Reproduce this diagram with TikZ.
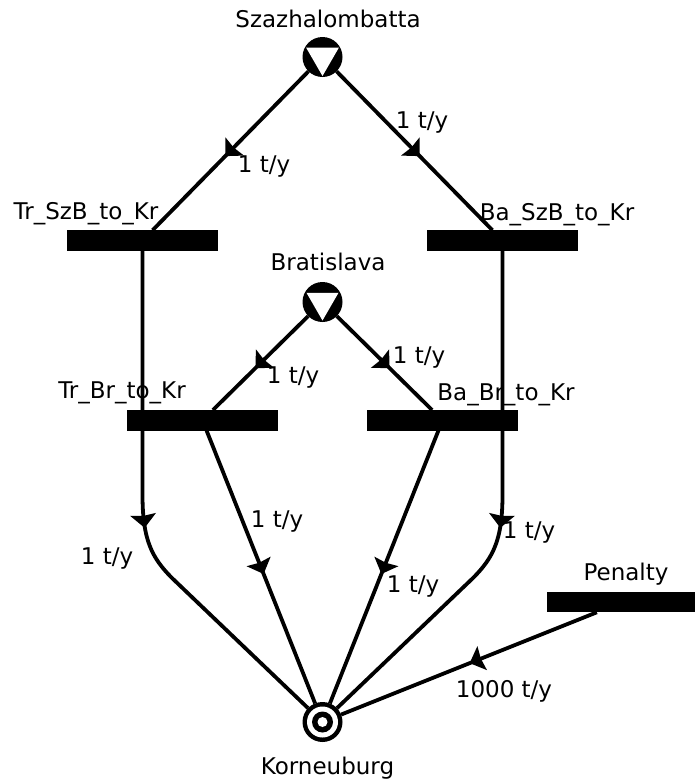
\documentclass[tikz,border=0pt]{standalone}
\usepackage{fontspec}
\setmainfont{DejaVu Sans}
\usetikzlibrary{decorations.markings,calc}
\begin{document}
\begin{tikzpicture}[x=1pt,y=-1pt,
  midarrow/.style={postaction={decorate},
    decoration={markings, mark=at position #1 with {\fill (7.5pt,0pt) -- (-6pt,13pt) -- (-4.5pt,0pt) -- (-6pt,-13pt) -- cycle;}}},
  midarrow/.default=0.5,
  conn/.style={line width=3.8pt, midarrow=#1},
  conn/.default=0.5,
  trans/.style={rectangle, fill=black, minimum width=151pt, minimum height=20.5pt, inner sep=0pt, outer sep=0pt},
  place/.style={circle, fill=black, minimum size=40pt, inner sep=0pt, outer sep=0pt},
  lbl/.style={anchor=base, inner sep=0pt, font=\fontsize{23}{28}\selectfont},
]
\useasboundingbox (0,0) rectangle (695,782);

% transitions
\node[trans] (tsb) at (142.5,240.5) {};
\node[trans] (bsb) at (502.5,240.5) {};
\node[trans] (tbr) at (202.5,420.3) {};
\node[trans] (bbr) at (442.5,420.3) {};
\node[trans] (pen) at (622.5,602) {};

% places
\node[place] (szb) at (322.5,57) {};
\node[place] (br) at (322.5,302) {};
\node[place] (kor) at (322.5,722) {};

% edges
\draw[conn] (szb) -- (tsb);
\draw[conn] (szb) -- (bsb);
\draw[conn] (br) -- (tbr);
\draw[conn] (br) -- (bbr);
\draw[conn] (tbr) -- (kor);
\draw[conn] (bbr) -- (kor);
\draw[conn=0.47] (pen) -- (kor);
\draw[conn=0.515] (tsb.south) -- (142.5,495) .. controls (142.5,540) and (152,558) .. (172,578) -- (kor);
\draw[conn=0.515] (bsb.south) -- (502.5,495) .. controls (502.5,540) and (493,558) .. (473,578) -- (kor);

% source triangles
\fill[white] ($(szb)+(150:19pt)$) -- ($(szb)+(30:19pt)$) -- ($(szb)+(270:19pt)$) -- cycle;
\fill[white] ($(br)+(150:18.5pt)$) -- ($(br)+(30:18.5pt)$) -- ($(br)+(270:18.5pt)$) -- cycle;

% sink rings
\fill[white] (kor) circle[radius=15.5pt];
\fill[black] (kor) circle[radius=10.5pt];
\fill[white] (kor) circle[radius=5pt];

% place labels
\node[lbl] (nszb) at (328,27) {Szazhalombatta};
\node[lbl] (nbr) at (328,270) {Bratislava};
\node[lbl] (nkor) at (327.5,774) {Korneuburg};

% transition labels
\node[lbl] (ntsb) at (86,219) {Tr\_SzB\_to\_Kr};
\node[lbl] (nbsb) at (557,220) {Ba\_SzB\_to\_Kr};
\node[lbl] (ntbr) at (122,398) {Tr\_Br\_to\_Kr};
\node[lbl] (nbbr) at (506,400) {Ba\_Br\_to\_Kr};
\node[lbl] (npen) at (626,580) {Penalty};

% edge labels
\node[lbl] (e1) at (264,172) {1 t/y};
\node[lbl] (e2) at (422,128) {1 t/y};
\node[lbl] (e3) at (293,383) {1 t/y};
\node[lbl] (e4) at (419,363) {1 t/y};
\node[lbl] (e5) at (107,564) {1 t/y};
\node[lbl] (e6) at (277,527) {1 t/y};
\node[lbl] (e7) at (413,592) {1 t/y};
\node[lbl] (e8) at (529,538) {1 t/y};
\node[lbl] (e9) at (504,697) {1000 t/y};
\end{tikzpicture}
\end{document}
